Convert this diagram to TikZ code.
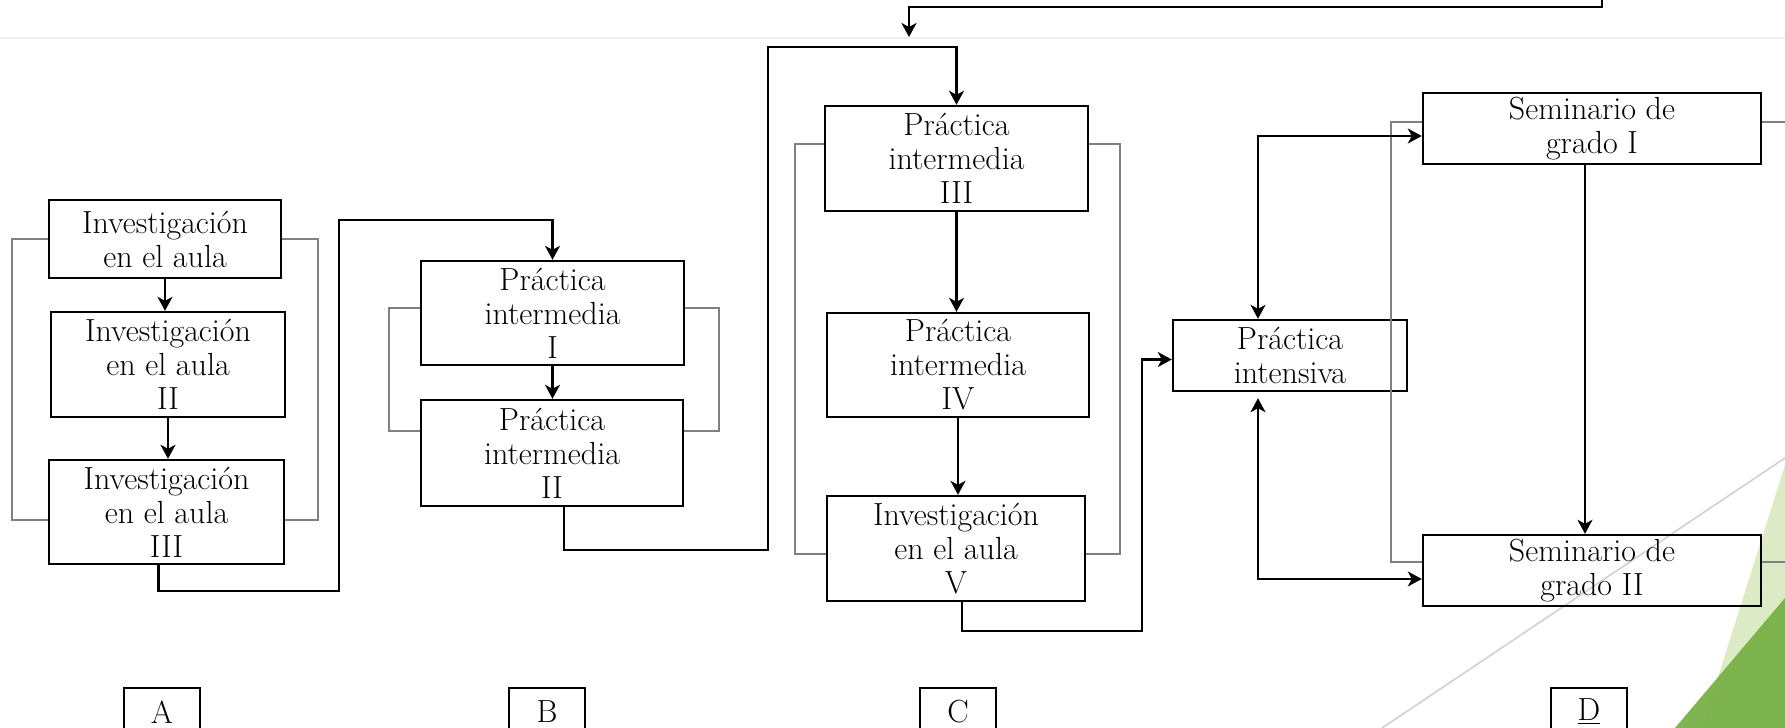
\documentclass[tikz,border=0pt]{standalone}
\usetikzlibrary{arrows.meta}
\definecolor{leafpale}{HTML}{DCEBC5}
\definecolor{leafdark}{HTML}{74AF42}

\begin{document}
\begin{tikzpicture}[x=0.5pt,y=-0.5pt,
  box/.style={draw,line width=1.2pt,align=center,inner sep=0pt,font=\fontsize{16}{17}\selectfont},
  flow/.style={line width=1.1pt,-{Stealth[length=7pt,width=7.5pt,inset=2pt]}},
  both/.style={line width=1.1pt,{Stealth[length=7pt,width=7.5pt,inset=2pt]}-{Stealth[length=7pt,width=7.5pt,inset=2pt]}},
  bracket/.style={line width=1pt,draw=black!50},
  lblbox/.style={draw,line width=1.2pt,minimum width=38pt,minimum height=24pt,font=\fontsize{16}{17}\selectfont}]
\useasboundingbox (0,0) rectangle (1785,728);
\fill[white] (0,0) rectangle (1785,728);
% background of the slide
\draw[black!6,line width=0.6pt] (0,38) -- (1785,38);
\draw[black!18,line width=0.8pt] (1382,728) -- (1785,458);
\fill[leafpale] (1785,465) -- (1702,728) -- (1785,728) -- cycle;
\fill[leafdark,opacity=0.92] (1785,598) -- (1675,728) -- (1785,728) -- cycle;

% A
\node[box,minimum width=116pt,minimum height=39pt] (ia1) at (165,239) {Investigación\\en el aula};
\node[box,minimum width=117pt,minimum height=52.5pt] (ia2) at (168,364.5) {Investigación\\en el aula\\II};
\node[box,minimum width=117.5pt,minimum height=52pt] (ia3) at (166.5,512) {Investigación\\en el aula\\III};
% B
\node[box,minimum width=131.5pt,minimum height=52pt] (pi1) at (552.5,313) {Práctica\\intermedia\\I};
\node[box,minimum width=131pt,minimum height=53pt] (pi2) at (552,453) {Práctica\\intermedia\\II};
% C
\node[box,minimum width=131.5pt,minimum height=52.5pt] (pi3) at (956.5,158.5) {Práctica\\intermedia\\III};
\node[box,minimum width=131pt,minimum height=52pt] (pi4) at (958,365) {Práctica\\intermedia\\IV};
\node[box,minimum width=129pt,minimum height=52.5pt] (ia5) at (956,548.5) {Investigación\\en el aula\\V};
% D
\node[box,minimum width=117pt,minimum height=35.5pt] (pint) at (1290,355.5) {Práctica\\intensiva};
\node[box,minimum width=169pt,minimum height=35.5pt] (sg1) at (1592,128.5) {Seminario de\\grado I};
\node[box,minimum width=169pt,minimum height=35.5pt] (sg2) at (1592,570.5) {Seminario de\\grado II};

\node[lblbox] (lblA) at (162,712) {A};
\node[lblbox] (lblB) at (547,712) {B};
\node[lblbox] (lblC) at (958,712) {C};
\node[lblbox] (lblD) at (1589,712) {\underline{D}};

% grey brackets
\draw[bracket] (ia1.west) -- ++(-36,0) |- ([yshift=-4pt]ia3.west);
\draw[bracket] (ia1.east) -- ++(36,0) |- ([yshift=-4pt]ia3.east);
\draw[bracket] ([yshift=2.5pt]pi1.west) -- ++(-31,0) |- ([yshift=11pt]pi2.west);
\draw[bracket] ([yshift=2.5pt]pi1.east) -- ++(34,0) |- ([yshift=11pt]pi2.east);
\draw[bracket] ([yshift=7.25pt]pi3.west) -- ++(-29,0) |- ([yshift=-2.75pt]ia5.west);
\draw[bracket] ([yshift=7.25pt]pi3.east) -- ++(31,0) |- ([yshift=-2.75pt]ia5.east);
\draw[bracket] ([yshift=3.25pt]sg1.west) -- ++(-31,0) |- ([yshift=4.25pt]sg2.west);
\draw[bracket] ([yshift=3.25pt]sg1.east) -- ++(40,0);
\draw[bracket] ([yshift=4.25pt]sg2.east) -- ++(40,0);

% flow
\draw[flow] (ia1.south) -- (ia1.south |- ia2.north);
\draw[flow] (ia2.south) -- (ia2.south |- ia3.north);
\draw[flow] ([xshift=-4pt]ia3.south) |- (339,591) |- ([yshift=20pt]pi1.north) -- (pi1.north);
\draw[flow] (pi1.south) -- (pi1.south |- pi2.north);
\draw[flow] ([xshift=6pt]pi2.south) |- (768,550) |- ([yshift=29pt]pi3.north) -- (pi3.north);
\draw[flow] (pi3.south) -- (pi3.south |- pi4.north);
\draw[flow] (pi4.south) -- (pi4.south |- ia5.north);
\draw[flow] ([xshift=3pt]ia5.south) |- (1142,631) |- ([yshift=-2pt]pint.west);
\draw[flow] ([xshift=-3.5pt]sg1.south) -- ([xshift=-3.5pt]sg1.south |- sg2.north);
\draw[both] ([xshift=-16pt]pint.north) |- ([yshift=-3.75pt]sg1.west);
\draw[both,shorten <=3pt] ([xshift=-16pt]pint.south) |- ([yshift=-4.25pt]sg2.west);
\coordinate (fromtop) at (1602,-10);
\coordinate (totop) at (909,37);
\draw[flow] (fromtop) |- (909,7) -- (totop);
\end{tikzpicture}
\end{document}
